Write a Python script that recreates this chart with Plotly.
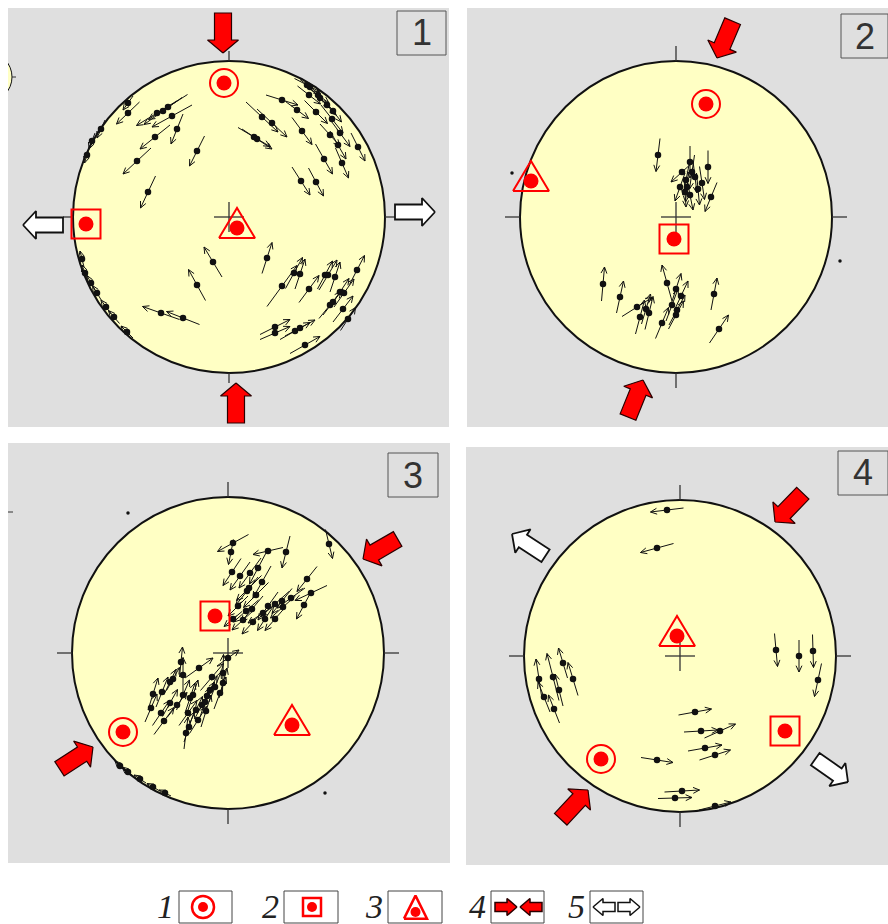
import numpy as np
import plotly.graph_objects as go

W, H = 888, 924
NET_R = 156                      # net radius in plotting units (1 unit = 1 px)

# ---------------------------------------------------------------------------
# Slip vectors per net: (x, y) of the lineation dot, (u, v) tail-to-head vector
# ---------------------------------------------------------------------------
slip_1 = [
    (-61, 110, -39, -25), (-72, 104, -41, -25), (-57, 101, -40, -22), (-66, 106, -38, -27),
    (-52, 88, -12, -30), (-74, 80, -30, -24), (-92, 56, -28, -26), (-32, 66, -15, -30),
    (-81, 25, -15, -32), (-101, 104, -23, -22), (-101, 114, -10, -14), (-128, 88, -8, -18),
    (-137, 76, -6, -16), (-142, 62, -5, -16),
    (53, 117, 32, -10), (68, 107, 23, -17), (87, 105, 23, -23), (80, 122, 23, -18),
    (91, 119, 20, -20), (81, 130, 20, -15), (78, 132, 25, -13), (89, 122, 22, -16),
    (103, 98, 22, -28), (111, 84, 20, -27), (101, 82, 20, -22), (109, 72, 16, -28),
    (129, 70, 14, -28), (113, 54, 13, -30), (95, 58, 17, -30), (73, 86, 20, -27),
    (33, 100, 32, -30), (43, 94, 30, -28), (25, 80, 32, -19), (28, 78, 30, -20),
    (72, 36, 18, -28), (87, 35, 15, -28), (98, 112, 18, -20), (104, 106, 17, -22),
    (38, -41, 10, 31), (53, -69, 30, 41), (65, -56, 17, 31), (71, -57, 10, 30),
    (80, -72, 20, 27), (96, -58, 15, 28), (99, -58, 18, 30), (106, -60, 10, 30),
    (128, -53, 15, 29), (111, -75, 18, 27), (115, -76, 20, 28), (101, -88, 22, 27),
    (104, -85, 20, 26), (114, -92, 20, 26), (119, -102, 15, 23),
    (46, -110, 30, 15), (46, -116, 30, 13), (66, -114, 30, 17), (71, -111, 30, 16),
    (76, -128, 30, 17),
    (-16, -45, -18, 30), (-32, -68, -17, 31), (-68, -96, -37, 13), (-46, -101, -33, 13),
    (-144, -56, -6, 16), (-132, -76, -9, 15), (-123, -90, -10, 14), (-102, -115, -12, 12),
    (-138, -66, -8, 15), (-147, -42, -4, 16), (-115, -100, -11, 13),
]

slip_2 = [
    (-18, 62, -4, -33), (14, 55, 0, -32), (6, 45, -22, -20), (32, 50, 0, -33),
    (10, 37, -6, -30), (19, 40, 4, -32), (26, 34, 5, -33), (11, 30, -3, -30),
    (9, 25, 2, -30), (22, 28, 3, -32), (35, 20, -12, -29), (16, 45, -5, -34),
    (4, 30, -10, -28), (14, 22, 6, -30),
    (-73, -67, 3, 34), (-56, -80, 7, 32), (-39, -90, 30, 19), (-36, -100, 9, 34),
    (-27, -96, 8, 33), (-9, -66, -10, 36), (0, -72, 10, 31), (5, -79, 14, 30),
    (1, -93, 16, 30), (0, -98, 15, 28), (-14, -106, 13, 31), (38, -77, 6, 32),
    (43, -112, 19, 28), (-4, -88, 12, 32), (-30, -92, 9, 30),
]

slip_3 = [
    (5, 110, -31, -17), (3, 101, -5, -25), (40, 102, -30, -7), (58, 101, -8, -32),
    (4, 81, -18, -27), (12, 77, -20, -28), (22, 80, -22, -30), (30, 85, -17, -32),
    (34, 71, -18, -32), (21, 65, -25, -25), (19, 62, -22, -28), (79, 74, -20, -25),
    (83, 60, -32, -15), (76, 48, -15, -28), (101, 109, 7, -29), (10, 47, -20, -20),
    (18, 42, -25, -22), (24, 44, -22, -26), (40, 47, -20, -28), (47, 49, -28, -25),
    (54, 52, -20, -25), (55, 46, -25, -22), (15, 33, -22, -20), (25, 31, -22, -24),
    (37, 34, -15, -23), (47, 34, -20, -23), (5, 34, -18, -15), (28, 58, -25, -25),
    (35, 40, -30, -20), (63, 55, -28, -20),
    (0, -5, 22, 16), (-47, -9, 3, 30), (-29, -15, 28, 20), (-55, -26, 13, 23),
    (-58, -29, 12, 25), (-45, -22, 0, 35), (-66, -39, 12, 30), (-75, -41, 10, 32),
    (-77, -55, 12, 28), (-67, -60, 17, 25), (-64, -68, 20, 27), (-51, -52, 20, 25),
    (-45, -42, 13, 30), (-38, -45, 10, 30), (-39, -74, 10, 30), (-30, -67, 17, 27),
    (-21, -43, 15, 28), (-16, -24, 23, 27), (-5, -20, 1, 37), (-13, -34, 12, 30),
    (-18, -37, 14, 28), (-35, -42, 10, 30), (-26, -52, 15, 28), (-23, -49, 10, 30),
    (-5, -30, 8, 30), (-32, -57, 13, 27), (-8, -40, 12, 32), (-58, -50, 15, 27),
    (-40, -60, 18, 25), (-22, -58, 10, 32), (-42, -80, 4, 32),
    (-100, -119, -12, 10), (-88, -126, -12, 8), (-75, -134, -12, 7),
    (-63, -140, -12, 6), (-108, -113, -10, 10),
]

slip_4 = [
    (-13, 146, -33, -4), (-23, 108, -33, -9),
    (-141, -23, -6, 40), (-127, -21, -12, 47), (-117, -7, -9, 30), (-107, -23, -10, 33),
    (-121, -34, -8, 32), (-136, -41, -12, 30), (-126, -53, -11, 28),
    (96, 6, 3, -33), (119, 0, 0, -32), (133, 5, 1, -33), (138, -24, -7, -33),
    (15, -56, 33, 6), (21, -75, 34, 2), (40, -75, 31, 14), (25, -92, 34, 6),
    (35, -99, 31, 10), (-23, -104, 32, -5), (2, -135, 35, 2), (-5, -142, 34, 1),
    (35, -150, 32, 8),
]

# Principal axes per net (legend items 1, 2, 3)
axis1_xy = [(-5, 134), (30, 113), (-105, -79), (-79, -103)]
axis2_xy = [(-143, -7), (-2, -22), (-13, 37), (105, -75)]
axis3_xy = [(8, -11), (-145, 36), (64, -72), (-3, 20)]

# Horizontal compression (item 4) and extension (item 5): arrow tip x, y, azimuth
compression = [
    [(-6, 164, 180), (7, -166, 0)],
    [(41, 159, 203), (-33, -163, 22)],
    [(135, 94, 240), (-135, -94, 57)],
    [(95, 134, 224), (-92, -134, 43)],
]
extension = [
    [(-206, -8, 270), (206, 5, 90)],
    [],
    [],
    [(-168, 122, 303), (168, -126, 125)],
]

# stray points plotted outside the nets
stray = [[], [(-164, 44), (164, -44)], [(-100, 140), (97, -140)], []]

panel_names = ["1", "2", "3", "4"]
legend_names = ["1", "2", "3", "4", "5"]

# ---------------------------------------------------------------------------
# page layout of the four nets: frame (left, top, right, bottom), centre, tick
# ---------------------------------------------------------------------------
frames = [
    (8, 8, 449, 427, 229, 217, 10),
    (467, 8, 888, 427, 676, 217, 15),
    (8, 443, 450, 863, 228, 653, 15),
    (466, 447, 888, 865, 680, 656, 15),
]
label_boxes = [(397, 11, 446, 55), (841, 14, 888, 58), (388, 453, 438, 497), (838, 451, 888, 495)]

BG = "#DFDFDF"
NET_FILL = "#FFFFC4"
RED = "#FF0000"
INK = "#111111"


def arrow_polygon(tx, ty, az, length=40, head_len=13, head_w=31, shaft_w=17):
    a = np.radians(az)
    d = np.array([np.sin(a), np.cos(a)])
    n = np.array([np.cos(a), -np.sin(a)])
    tip = np.array([tx, ty], float)
    hb = tip - d * head_len
    tb = tip - d * length
    pts = [tip, hb + n * head_w / 2, hb + n * shaft_w / 2, tb + n * shaft_w / 2,
           tb - n * shaft_w / 2, hb - n * shaft_w / 2, hb - n * head_w / 2, tip]
    return [p[0] for p in pts], [p[1] for p in pts]


def vector_paths(vecs, frac=0.5, barb=7.0, spread=np.radians(25)):
    xs, ys = [], []
    for x, y, u, v in vecs:
        tx, ty = x - frac * u, y - frac * v
        hx, hy = x + (1 - frac) * u, y + (1 - frac) * v
        xs += [tx, hx, None]
        ys += [ty, hy, None]
        ang = np.arctan2(v, u) + np.pi
        xs += [hx + barb * np.cos(ang + spread), hx, hx + barb * np.cos(ang - spread), None]
        ys += [hy + barb * np.sin(ang + spread), hy, hy + barb * np.sin(ang - spread), None]
    return xs, ys


def triangle(x, y, h, w):
    # apex up, centroid at (x, y)
    return ([x - w / 2, x, x + w / 2, x - w / 2],
            [y - h / 3, y + 2 * h / 3, y - h / 3, y - h / 3])


fig = go.Figure()
shapes, annotations, axes = [], [], {}
slips = [slip_1, slip_2, slip_3, slip_4]

for i, (L, T, R, B, cx, cy, tick) in enumerate(frames):
    k = "" if i == 0 else str(i + 1)
    xa, ya = "x" + k, "y" + k
    axes["xaxis" + k] = dict(domain=[L / W, R / W], range=[L - cx, R - cx], visible=False,
                             fixedrange=True, anchor=ya)
    axes["yaxis" + k] = dict(domain=[1 - B / H, 1 - T / H], range=[cy - B, cy - T], visible=False,
                             fixedrange=True, anchor=xa)
    shapes.append(dict(type="rect", xref=xa + " domain", yref=ya + " domain", x0=0, x1=1, y0=0, y1=1,
                       fillcolor=BG, line_width=0, layer="below"))
    shapes.append(dict(type="circle", xref=xa, yref=ya, x0=-NET_R, x1=NET_R, y0=-NET_R, y1=NET_R,
                       fillcolor=NET_FILL, line=dict(color=INK, width=2), layer="below"))

    # compass ticks and centre cross
    tx, ty = [], []
    for dx, dy in [(0, 1), (1, 0), (0, -1), (-1, 0)]:
        tx += [dx * NET_R, dx * (NET_R + tick), None]
        ty += [dy * NET_R, dy * (NET_R + tick), None]
    tx += [-15, 15, None, 0, 0]
    ty += [0, 0, None, -15, 15]
    fig.add_trace(go.Scatter(x=tx, y=ty, mode="lines", line=dict(color="#333333", width=1.3),
                             xaxis=xa, yaxis=ya, hoverinfo="skip"))

    # slip vectors
    vx, vy = vector_paths(slips[i])
    fig.add_trace(go.Scatter(x=vx, y=vy, mode="lines", line=dict(color=INK, width=1),
                             xaxis=xa, yaxis=ya, hoverinfo="skip"))
    fig.add_trace(go.Scatter(x=[s[0] for s in slips[i]], y=[s[1] for s in slips[i]], mode="markers",
                             marker=dict(color=INK, size=6.5), xaxis=xa, yaxis=ya, hoverinfo="skip"))

    if stray[i]:
        fig.add_trace(go.Scatter(x=[p[0] for p in stray[i]], y=[p[1] for p in stray[i]], mode="markers",
                                 marker=dict(color=INK, size=3.5), xaxis=xa, yaxis=ya, hoverinfo="skip"))

    # principal axes symbols
    a1, a2, a3 = axis1_xy[i], axis2_xy[i], axis3_xy[i]
    fig.add_trace(go.Scatter(x=[a1[0]], y=[a1[1]], mode="markers",
                             marker=dict(symbol="circle-open", size=28, color=RED, line=dict(width=2)),
                             xaxis=xa, yaxis=ya, hoverinfo="skip"))
    fig.add_trace(go.Scatter(x=[a2[0]], y=[a2[1]], mode="markers",
                             marker=dict(symbol="square-open", size=29, color=RED, line=dict(width=2)),
                             xaxis=xa, yaxis=ya, hoverinfo="skip"))
    trx, try_ = triangle(a3[0], a3[1], 30, 36)
    fig.add_trace(go.Scatter(x=trx, y=try_, mode="lines", line=dict(color=RED, width=2),
                             xaxis=xa, yaxis=ya, hoverinfo="skip"))
    fig.add_trace(go.Scatter(x=[a1[0], a2[0], a3[0]], y=[a1[1], a2[1], a3[1]], mode="markers",
                             marker=dict(symbol="circle", size=15, color=RED),
                             xaxis=xa, yaxis=ya, hoverinfo="skip"))

    # stress arrows
    for (px, py, az) in compression[i]:
        ax_, ay_ = arrow_polygon(px, py, az)
        fig.add_trace(go.Scatter(x=ax_, y=ay_, mode="lines", fill="toself", fillcolor=RED,
                                 line=dict(color="#2a0000", width=1.2), xaxis=xa, yaxis=ya,
                                 hoverinfo="skip"))
    for (px, py, az) in extension[i]:
        ax_, ay_ = arrow_polygon(px, py, az, length=40, head_len=13, head_w=28, shaft_w=15)
        fig.add_trace(go.Scatter(x=ax_, y=ay_, mode="lines", fill="toself", fillcolor="#FFFFFF",
                                 line=dict(color=INK, width=1.8), xaxis=xa, yaxis=ya,
                                 hoverinfo="skip"))

    # panel number box
    bl, bt, br, bb = label_boxes[i]
    shapes.append(dict(type="rect", xref="paper", yref="paper", x0=bl / W, x1=br / W,
                       y0=1 - bb / H, y1=1 - bt / H, fillcolor=BG,
                       line=dict(color="#555555", width=1)))
    annotations.append(dict(xref="paper", yref="paper", x=(bl + br) / 2 / W, y=1 - (bt + bb) / 2 / H,
                            text=panel_names[i], showarrow=False, xanchor="center", yanchor="middle",
                            font=dict(family="Liberation Sans, Arial", size=36, color="#333333")))

# small neighbouring net fragment and tick at the left edges
shapes.append(dict(type="circle", xref="x", yref="y", x0=-267, x1=-217, y0=115, y1=165,
                   fillcolor=NET_FILL, line=dict(color=INK, width=1), layer="below"))
fig.add_trace(go.Scatter(x=[-217, -213], y=[140, 140], mode="lines", line=dict(color="#333", width=1),
                         xaxis="x", yaxis="y", hoverinfo="skip"))
fig.add_trace(go.Scatter(x=[-220, -215], y=[141, 141], mode="lines", line=dict(color="#333", width=1),
                         xaxis="x3", yaxis="y3", hoverinfo="skip"))

# ---------------------------------------------------------------------------
# legend row (x5/y5 measured in px from the page left / bottom)
# ---------------------------------------------------------------------------
axes["xaxis5"] = dict(domain=[0, 1], range=[0, W], visible=False, fixedrange=True, anchor="y5")
axes["yaxis5"] = dict(domain=[0, 44 / H], range=[0, 44], visible=False, fixedrange=True, anchor="x5")

leg_boxes = [(179, 232), (284, 338), (388, 442), (491, 544), (590, 643)]
for name, (l, r) in zip(legend_names, leg_boxes):
    shapes.append(dict(type="rect", xref="x5", yref="y5", x0=l, x1=r, y0=1, y1=33,
                       fillcolor="#FFFFFF", line=dict(color="#444444", width=1), layer="below"))
    annotations.append(dict(xref="x5", yref="y5", x=l - 3, y=18, text="<i>" + name + "</i>",
                            showarrow=False, xanchor="right", yanchor="middle",
                            font=dict(family="Liberation Serif, Times New Roman", size=34,
                                      color="#222222")))

fig.add_trace(go.Scatter(x=[203], y=[17], mode="markers",
                         marker=dict(symbol="circle-open", size=22, color=RED, line=dict(width=2.5)),
                         xaxis="x5", yaxis="y5", hoverinfo="skip"))
fig.add_trace(go.Scatter(x=[312], y=[17], mode="markers",
                         marker=dict(symbol="square-open", size=18, color=RED, line=dict(width=2.5)),
                         xaxis="x5", yaxis="y5", hoverinfo="skip"))
ltx, lty = triangle(415.5, 13, 23, 23)
fig.add_trace(go.Scatter(x=ltx, y=lty, mode="lines", line=dict(color=RED, width=2.5),
                         xaxis="x5", yaxis="y5", hoverinfo="skip"))
fig.add_trace(go.Scatter(x=[203, 312, 415.5], y=[17, 17, 12], mode="markers",
                         marker=dict(symbol="circle", size=10, color=RED),
                         xaxis="x5", yaxis="y5", hoverinfo="skip"))
for (px, az, fill, col) in [(517, 90, RED, "#2a0000"), (520, 270, RED, "#2a0000"),
                            (593, 270, "#FFFFFF", INK), (640, 90, "#FFFFFF", INK)]:
    ax_, ay_ = arrow_polygon(px, 17, az, length=22, head_len=10, head_w=17, shaft_w=9)
    fig.add_trace(go.Scatter(x=ax_, y=ay_, mode="lines", fill="toself", fillcolor=fill,
                             line=dict(color=col, width=1.5), xaxis="x5", yaxis="y5",
                             hoverinfo="skip"))

fig.update_layout(width=W, height=H, margin=dict(l=0, r=0, t=0, b=0), showlegend=False,
                  paper_bgcolor="#FFFFFF", plot_bgcolor="rgba(0,0,0,0)",
                  shapes=shapes, annotations=annotations, **axes)

fig.write_html("out.html", config={"displayModeBar": False})
